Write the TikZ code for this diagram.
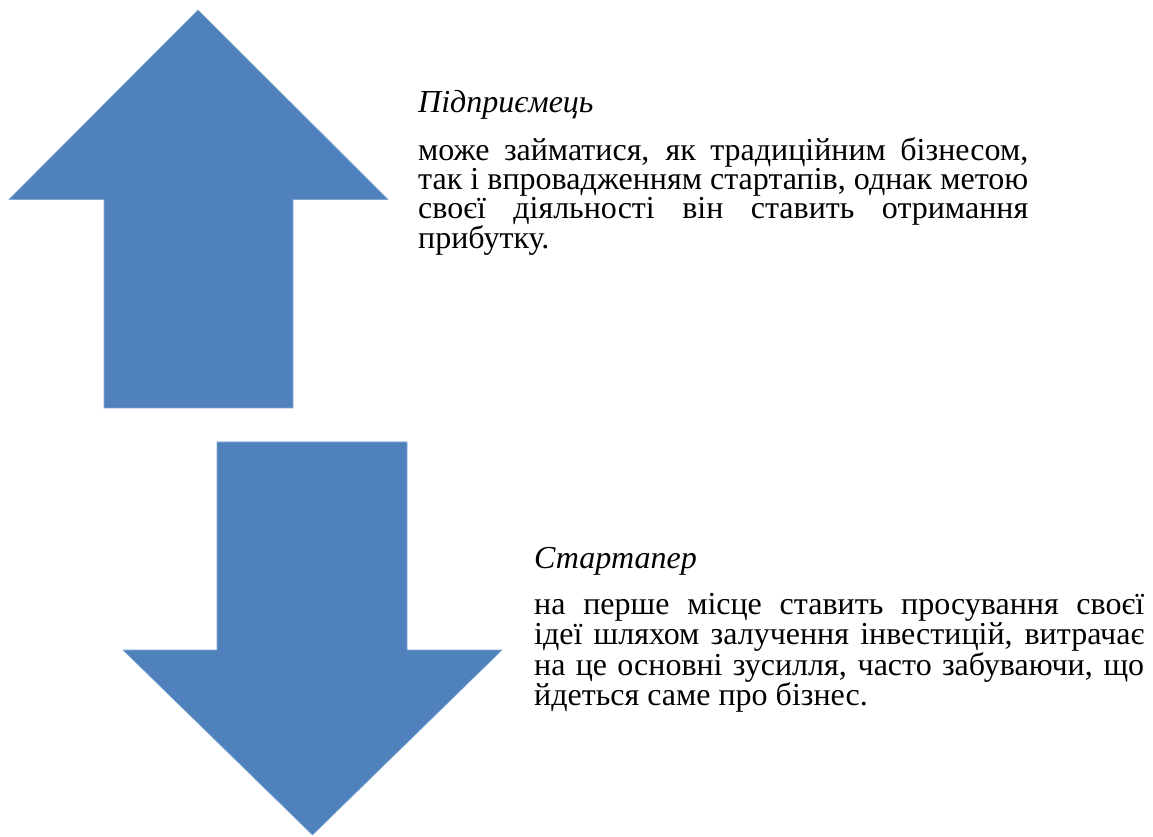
\documentclass[tikz,border=0pt]{standalone}
\usepackage{fontspec}
\setmainfont{Liberation Serif}
\usetikzlibrary{positioning}
\lineskiplimit=-100pt

\definecolor{arrowblue}{HTML}{4F81BD}

\newcommand{\bodysize}{\fontsize{32}{24.5}\selectfont}

\begin{document}
\begin{tikzpicture}[
    x=1pt, y=1pt,
    bigarrow/.style={fill=arrowblue, draw=arrowblue!70!white, line width=0.6pt},
    heading/.style={anchor=base west, inner sep=0pt, font=\fontsize{32}{24.5}\selectfont\itshape},
    bodytext/.style={anchor=north west, inner sep=0pt, text width=610pt, align=justify,
                     font=\bodysize},
  ]
  \useasboundingbox (0,0) rectangle (1153,836);

  % Arrows
  \fill[bigarrow] (198,826) -- (388,636.5) -- (293,636.5) -- (293,428)
      -- (104,428) -- (104,636.5) -- (9,636.5) -- cycle;
  \fill[bigarrow] (312.5,1) -- (502,186) -- (407,186) -- (407,394)
      -- (217,394) -- (217,186) -- (123,186) -- cycle;

  % Texts
  \node[heading] (head1) at (418,723) {Підприємець};
  \node[bodytext, below=24pt of head1.base west, anchor=north west] (body1)
    {\bodysize може займатися, як традиційним бізнесом,\linebreak
     так і впровадженням стартапів, однак метою\linebreak
     своєї діяльності він ставить отримання\linebreak
     прибутку.\par};

  \node[heading] (head2) at (534,268) {Стартапер};
  \node[bodytext, below=25pt of head2.base west, anchor=north west] (body2)
    {\bodysize на перше місце ставить просування своєї\linebreak
     ідеї шляхом залучення інвестицій, витрачає\linebreak
     на це основні зусилля, часто забуваючи, що\linebreak
     йдеться саме про бізнес.\par};

\end{tikzpicture}
\end{document}
